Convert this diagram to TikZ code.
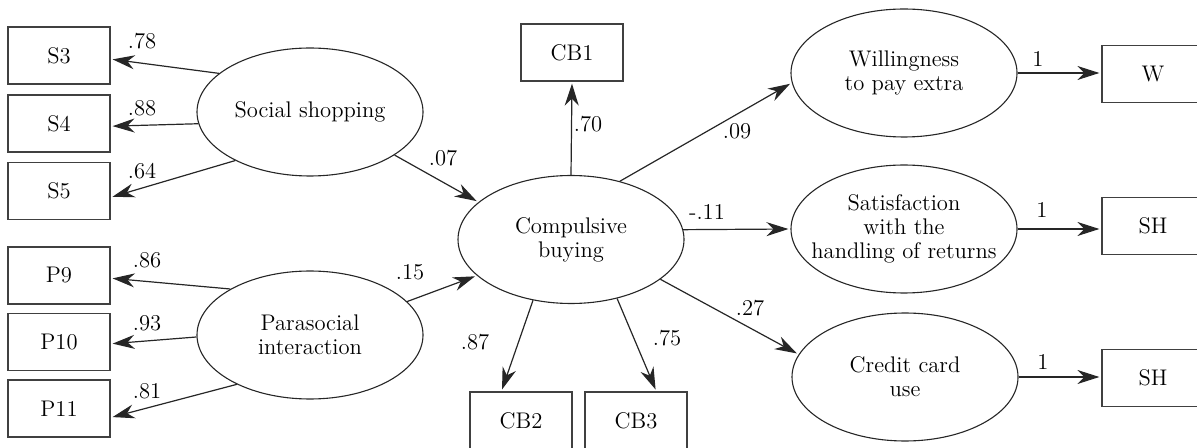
\documentclass[tikz,border=0pt]{standalone}
\usetikzlibrary{shapes.geometric,arrows.meta}
\begin{document}
\begin{tikzpicture}[x=0.5pt,y=-0.5pt,
  font=\fontsize{11.3}{12}\selectfont,
  ell/.style={ellipse,draw=black!85,line width=0.55pt,inner sep=0pt,minimum width=113pt,minimum height=64pt},
  txt/.style={align=center,inner sep=0pt},
  box/.style={rectangle,draw=black!75,line width=0.6pt,inner sep=0pt,minimum width=51pt,minimum height=28.5pt},
  arr/.style={draw=black!85,line width=0.6pt,-{Stealth[length=11pt,width=7pt,inset=3.5pt]},shorten >=1pt},
  lbl/.style={inner sep=0pt}]
\useasboundingbox (0,0) rectangle (1197,448);
% boxes
\node[box] (S3) at (59,55.5) {S3};
\node[box] (S4) at (59,123.5) {S4};
\node[box] (S5) at (59,191) {S5};
\node[box] (P9) at (59,275.5) {P9};
\node[box] (P10) at (59,342) {P10};
\node[box] (P11) at (59,408.5) {P11};
\node[box] (CB1) at (572,52.5) {CB1};
\node[box] (CB2) at (521,420.5) {CB2};
\node[box] (CB3) at (636,420.5) {CB3};
\node[box] (W) at (1153,74) {W};
\node[box] (SH1) at (1153,226) {SH};
\node[box] (SH2) at (1153,378) {SH};
% ellipses
\node[ell] (ss) at (310,112) {};
\node[txt] (ssT) at (ss) {Social shopping};
\node[ell] (pi) at (310,335) {};
\node[txt] (piT) at (pi) {Parasocial\\interaction};
\node[ell] (cb) at (571,239.5) {};
\node[txt] (cbT) at (cb) {Compulsive\\buying};
\node[ell] (wi) at (904,73) {};
\node[txt] (wiT) at (wi) {Willingness\\to pay extra};
\node[ell] (sa) at (904,229) {};
\node[txt] (saT) at (sa) {Satisfaction\\with the\\handling of returns};
\node[ell] (cc) at (905,377) {};
\node[txt] (ccT) at (cc) {Credit card\\use};
% connectors
\draw[arr] (ss.157.9) -- (S3.-4.8);
\draw[arr] (ss.186.3) -- (S4.-3.7);
\draw[arr] (ss.213) -- (S5.-7.4);
\draw[arr] (pi.150.6) -- (P9.-3.7);
\draw[arr] (pi.181.6) -- (P10.-2.1);
\draw[arr] (pi.214.2) -- (P11.-10);
\draw[arr] (ss.-27) -- (cb.158.3);
\draw[arr] (pi.19.4) -- (cb.201.5);
\draw[arr] (cb.90) -- (CB1.south);
\draw[arr] (cb.50.4) -- (wi.185.5);
\draw[arr] (cb.5) -- (sa.180);
\draw[arr] (cb.-24) -- (cc.168);
\draw[arr] (cb.238) -- (CB2.124.5);
\draw[arr] (cb.-52) -- (CB3.55.5);
\draw[arr] (wi.east) -- (W.west |- wi.east);
\draw[arr] (sa.east) -- (SH1.west |- sa.east);
\draw[arr] (cc.east) -- (SH2.west |- cc.east);
% labels
\node[lbl] (l1) at (142,41) {.78};
\node[lbl] (l2) at (142,108) {.88};
\node[lbl] (l3) at (142,171) {.64};
\node[lbl] (l4) at (147,260) {.86};
\node[lbl] (l5) at (147,323) {.93};
\node[lbl] (l6) at (147,391) {.81};
\node[lbl] (l7) at (443,158) {.07};
\node[lbl] (l8) at (410,272) {.15};
\node[lbl] (l9) at (588,124) {.70};
\node[lbl] (l10) at (737,131) {.09};
\node[lbl] (l11) at (707,212) {-.11};
\node[lbl] (l12) at (750,308) {.27};
\node[lbl] (l13) at (475,342) {.87};
\node[lbl] (l14) at (667,338) {.75};
\node[lbl] (l15) at (1038,59) {1};
\node[lbl] (l16) at (1042,210) {1};
\node[lbl] (l17) at (1043,362) {1};
\end{tikzpicture}
\end{document}
